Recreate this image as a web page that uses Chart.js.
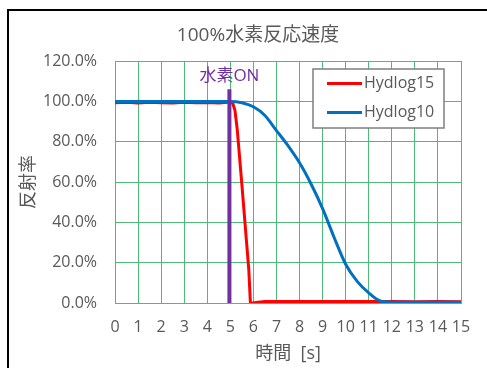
<!DOCTYPE html>
<html>
<head>
<meta charset="utf-8">
<script src="https://cdn.jsdelivr.net/npm/chart.js@4.4.1/dist/chart.umd.min.js"></script>
<style>
  html, body { margin: 0; padding: 0; background: #ffffff; }
  #frame { position: absolute; left: 7px; top: 9px; width: 700px; height: 700px; border: 2px solid #000; box-sizing: border-box; }
  #c { position: absolute; left: 0; top: 0; }
</style>
</head>
<body>
<div id="frame"></div>
<canvas id="c" width="487" height="368"></canvas>
<script>
// ---- data ----
const chartTitle = '100%水素反応速度';
const xAxisTitle = '時間  [s]';
const yAxisTitle = '反射率';
const seriesNames = ['Hydlog15', 'Hydlog10'];
const annotationText = '水素ON';

const timeRed = [0, 0.5, 1, 1.5, 2, 2.5, 3, 3.5, 4, 4.5, 4.9, 5.0, 5.1, 5.2, 5.3, 5.4, 5.5, 5.6, 5.7, 5.8, 5.87, 6.0, 6.2, 6.5, 7, 8, 9, 10, 11, 12, 13, 14, 15];
const valueRed = [99.3, 99.5, 99.2, 99.5, 99.3, 99.2, 99.5, 99.3, 99.4, 99.2, 99.5, 99.5, 99.2, 95.5, 86.0, 72.5, 58.8, 44.7, 30.6, 16.6, 0, 0, 0.4, 0.8, 0.8, 0.8, 0.8, 0.8, 0.8, 0.7, 0.6, 0.7, 0.6];

const timeBlue = [0, 1, 2, 3, 4, 4.5, 5.0, 5.5, 6.0, 6.5, 7.0, 7.5, 8.0, 8.5, 9.0, 9.5, 10.0, 10.5, 11.0, 11.5, 12, 13, 14, 15];
const valueBlue = [99.9, 99.9, 99.9, 99.9, 99.9, 99.9, 99.9, 99.3, 97.3, 93.0, 85.5, 78.0, 69.5, 59.0, 46.8, 32.5, 19.2, 10.7, 5.0, 1.0, 0.4, 0.4, 0.4, 0.4];

const hydrogenOnTime = [4.96, 4.96];
const hydrogenOnLevel = [0, 106];

const xTicksMin = 0, xTicksMax = 15, xStep = 1;
const yTicksMin = 0, yTicksMax = 120, yStep = 20;

// ---- build ----
const toPts = (xs, ys) => xs.map((x, i) => ({ x: x, y: ys[i] }));

const FONT = '"Open Sans", "Noto Sans CJK JP", sans-serif';
const TXT = '#595959';
const GRID = '#4cbb78';

const customDraw = {
  id: 'customDraw',
  afterDraw(chart) {
    const ctx = chart.ctx;
    const xs = chart.scales.x, ys = chart.scales.y;
    const ca = chart.chartArea;
    ctx.save();
    // title
    ctx.fillStyle = TXT;
    ctx.font = '19px ' + FONT;
    ctx.textAlign = 'center';
    ctx.textBaseline = 'middle';
    ctx.fillText(chartTitle, (ca.left + ca.right) / 2 - 30, 36);
    // annotation label
    ctx.fillStyle = '#7030a0';
    ctx.font = '17px ' + FONT;
    ctx.fillText(annotationText, xs.getPixelForValue(hydrogenOnTime[0]), ys.getPixelForValue(112.5));
    // legend
    const lx = 313, ly = 69, lw = 131, lh = 59;
    ctx.fillStyle = '#ffffff';
    ctx.fillRect(lx, ly, lw, lh);
    ctx.strokeStyle = '#7f7f7f';
    ctx.lineWidth = 1.5;
    ctx.strokeRect(lx, ly, lw, lh);
    const colors = ['#ff0000', '#0070c0'];
    const rows = [83.5, 112.5];
    ctx.font = '16px ' + FONT;
    ctx.textAlign = 'left';
    for (let i = 0; i < 2; i++) {
      ctx.strokeStyle = colors[i];
      ctx.lineWidth = 3;
      ctx.beginPath();
      ctx.moveTo(327, rows[i]);
      ctx.lineTo(362, rows[i]);
      ctx.stroke();
      ctx.fillStyle = TXT;
      ctx.fillText(seriesNames[i], 364, rows[i]);
    }
    ctx.restore();
  }
};

new Chart(document.getElementById('c'), {
  type: 'line',
  data: {
    datasets: [
      {
        label: 'hydrogenOn',
        data: toPts(hydrogenOnTime, hydrogenOnLevel),
        borderColor: '#7030a0',
        borderWidth: 4,
        pointRadius: 0,
        order: -1
      },
      {
        label: seriesNames[0],
        data: toPts(timeRed, valueRed),
        borderColor: '#ff0000',
        borderWidth: 3,
        pointRadius: 0,
        order: 2
      },
      {
        label: seriesNames[1],
        data: toPts(timeBlue, valueBlue),
        borderColor: '#0070c0',
        borderWidth: 3,
        pointRadius: 0,
        cubicInterpolationMode: 'monotone',
        order: 1
      }
    ]
  },
  options: {
    responsive: false,
    animation: false,
    events: [],
    layout: { padding: { top: 61, right: 26, bottom: 0, left: 0 } },
    plugins: { legend: { display: false }, title: { display: false }, tooltip: { enabled: false } },
    scales: {
      x: {
        type: 'linear',
        min: xTicksMin, max: xTicksMax,
        afterFit(s) { s.height = 65; },
        grid: { color: GRID, lineWidth: 1, drawTicks: false },
        border: { color: GRID, width: 1 },
        ticks: { stepSize: xStep, padding: 15, color: TXT, font: { family: FONT, size: 16 }, maxRotation: 0, autoSkip: false },
        title: { display: true, text: xAxisTitle, color: TXT, font: { family: FONT, size: 18 }, padding: { top: 0, bottom: 3 } }
      },
      y: {
        min: yTicksMin, max: yTicksMax,
        afterFit(s) { s.width = 115; },
        grid: { color: GRID, lineWidth: 1, drawTicks: false },
        border: { color: GRID, width: 1 },
        ticks: { stepSize: yStep, padding: 18, color: TXT, font: { family: FONT, size: 16 }, callback: v => v.toFixed(1) + '%' },
        title: { display: true, text: yAxisTitle, color: TXT, font: { family: FONT, size: 18 }, padding: { top: 18, bottom: 0 } }
      }
    }
  },
  plugins: [customDraw]
});
</script>
</body>
</html>
